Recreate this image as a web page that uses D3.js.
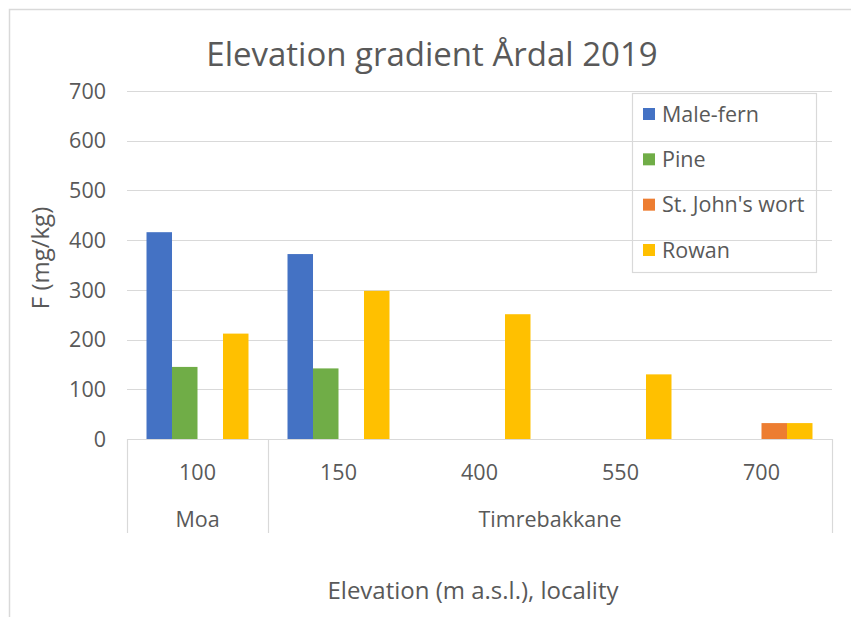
<!DOCTYPE html>
<html><head><meta charset="utf-8">
<script src="https://cdn.jsdelivr.net/npm/d3@7"></script>
<style>html,body{margin:0;padding:0;background:#fff;}svg{display:block;}</style>
</head><body>
<svg id="chart" width="851" height="617"></svg>
<script>
const categories = ["100", "150", "400", "550", "700"];
const localityNames = ["Moa", "Timrebakkane"];
const localitySpans = [1, 4];
const seriesNames = ["Male-fern", "Pine", "St. John's wort", "Rowan"];
const maleFern = [416, 372, null, null, null];
const pine = [145, 142, null, null, null];
const stJohnsWort = [null, null, null, null, 32];
const rowan = [212, 298, 251, 130, 32];
const seriesColors = ["#4472C4", "#70AD47", "#ED7D31", "#FFC000"];
const yTicks = [0, 100, 200, 300, 400, 500, 600, 700];

const seriesValues = [maleFern, pine, stJohnsWort, rowan];
const FONT = "'Open Sans', sans-serif";
const TXT = "#595959";
const GRID = "#d9d9d9";
const FS = 21.5, FS_AX = 24, FS_T = 33;

const svg = d3.select("#chart");
const L = 127, R = 832, T = 91, B = 439;

// chart border
svg.append("rect").attr("x", 9.5).attr("y", 9.5).attr("width", 900).attr("height", 700)
  .attr("fill", "none").attr("stroke", GRID).attr("stroke-width", 1.5);

const y = d3.scaleLinear().domain([0, 700]).range([B, T]);
const x0 = d3.scaleBand().domain(categories).range([L, R]).padding(0);
const x1 = d3.scaleBand().domain(seriesNames).range([0, x0.bandwidth()]).paddingInner(0).paddingOuter(0.765);

// gridlines
svg.append("g").selectAll("line").data(yTicks.filter(d => d > 0)).join("line")
  .attr("x1", L).attr("x2", R).attr("y1", d => Math.round(y(d)) + 0.5).attr("y2", d => Math.round(y(d)) + 0.5)
  .attr("stroke", GRID).attr("stroke-width", 1.2);

// y tick labels
svg.append("g").selectAll("text").data(yTicks).join("text")
  .attr("x", 106).attr("y", d => y(d)).attr("dy", "0.36em")
  .attr("text-anchor", "end").attr("font-family", FONT).attr("font-size", FS).attr("fill", TXT)
  .text(d => d);

// bars
const flat = [];
seriesNames.forEach((s, si) => categories.forEach((c, ci) => {
  const v = seriesValues[si][ci];
  if (v != null) flat.push({ s, c, v, color: seriesColors[si] });
}));
svg.append("g").selectAll("rect").data(flat).join("rect")
  .attr("x", d => x0(d.c) + x1(d.s)).attr("width", x1.bandwidth())
  .attr("y", d => y(d.v)).attr("height", d => y(0) - y(d.v))
  .attr("fill", d => d.color);

// x axis line
svg.append("line").attr("x1", L).attr("x2", R).attr("y1", B + 0.5).attr("y2", B + 0.5)
  .attr("stroke", GRID).attr("stroke-width", 1.2);

// locality separators
const bottomY = 533;
const seps = [0];
let acc = 0;
localitySpans.forEach(sp => { acc += sp; seps.push(acc); });
svg.append("g").selectAll("line").data(seps).join("line")
  .attr("x1", i => i < categories.length ? x0(categories[i]) + 0.5 : R + 0.5)
  .attr("x2", i => i < categories.length ? x0(categories[i]) + 0.5 : R + 0.5)
  .attr("y1", B).attr("y2", bottomY)
  .attr("stroke", GRID).attr("stroke-width", 1.2);

// category labels
svg.append("g").selectAll("text").data(categories).join("text")
  .attr("x", d => x0(d) + x0.bandwidth() / 2).attr("y", 472).attr("dy", "0.36em")
  .attr("text-anchor", "middle").attr("font-family", FONT).attr("font-size", FS).attr("fill", TXT)
  .text(d => d);

// locality labels
let start = 0;
const locData = localityNames.map((n, i) => {
  const a = start; start += localitySpans[i];
  const x1p = x0(categories[a]);
  const x2p = start < categories.length ? x0(categories[start]) : R;
  return { n, cx: (x1p + x2p) / 2 };
});
svg.append("g").selectAll("text").data(locData).join("text")
  .attr("x", d => d.cx).attr("y", 519).attr("dy", "0.36em")
  .attr("text-anchor", "middle").attr("font-family", FONT).attr("font-size", FS).attr("fill", TXT)
  .text(d => d.n);

// title
svg.append("text").attr("x", 432).attr("y", 54).attr("dy", "0.36em")
  .attr("text-anchor", "middle").attr("font-family", FONT).attr("font-size", FS_T).attr("fill", TXT)
  .text("Elevation gradient Årdal 2019");

// axis titles
svg.append("text").attr("transform", "translate(40,258) rotate(-90)").attr("dy", "0.36em")
  .attr("text-anchor", "middle").attr("font-family", FONT).attr("font-size", FS_AX).attr("fill", TXT)
  .text("F (mg/kg)");
svg.append("text").attr("x", 473).attr("y", 590).attr("dy", "0.36em")
  .attr("text-anchor", "middle").attr("font-family", FONT).attr("font-size", FS_AX).attr("fill", TXT)
  .text("Elevation (m a.s.l.), locality");

// legend
const lg = svg.append("g");
lg.append("rect").attr("x", 632.5).attr("y", 93.5).attr("width", 184).attr("height", 179)
  .attr("fill", "none").attr("stroke", GRID).attr("stroke-width", 1.2);
const legY = d3.scalePoint().domain(seriesNames).range([114, 250]);
const items = lg.selectAll("g").data(seriesNames).join("g");
items.append("rect").attr("x", 643).attr("y", d => legY(d) - 6).attr("width", 12).attr("height", 12)
  .attr("fill", (d, i) => seriesColors[i]);
items.append("text").attr("x", 662).attr("y", d => legY(d)).attr("dy", "0.36em")
  .attr("font-family", FONT).attr("font-size", FS).attr("fill", TXT).text(d => d);
</script>
</body></html>
